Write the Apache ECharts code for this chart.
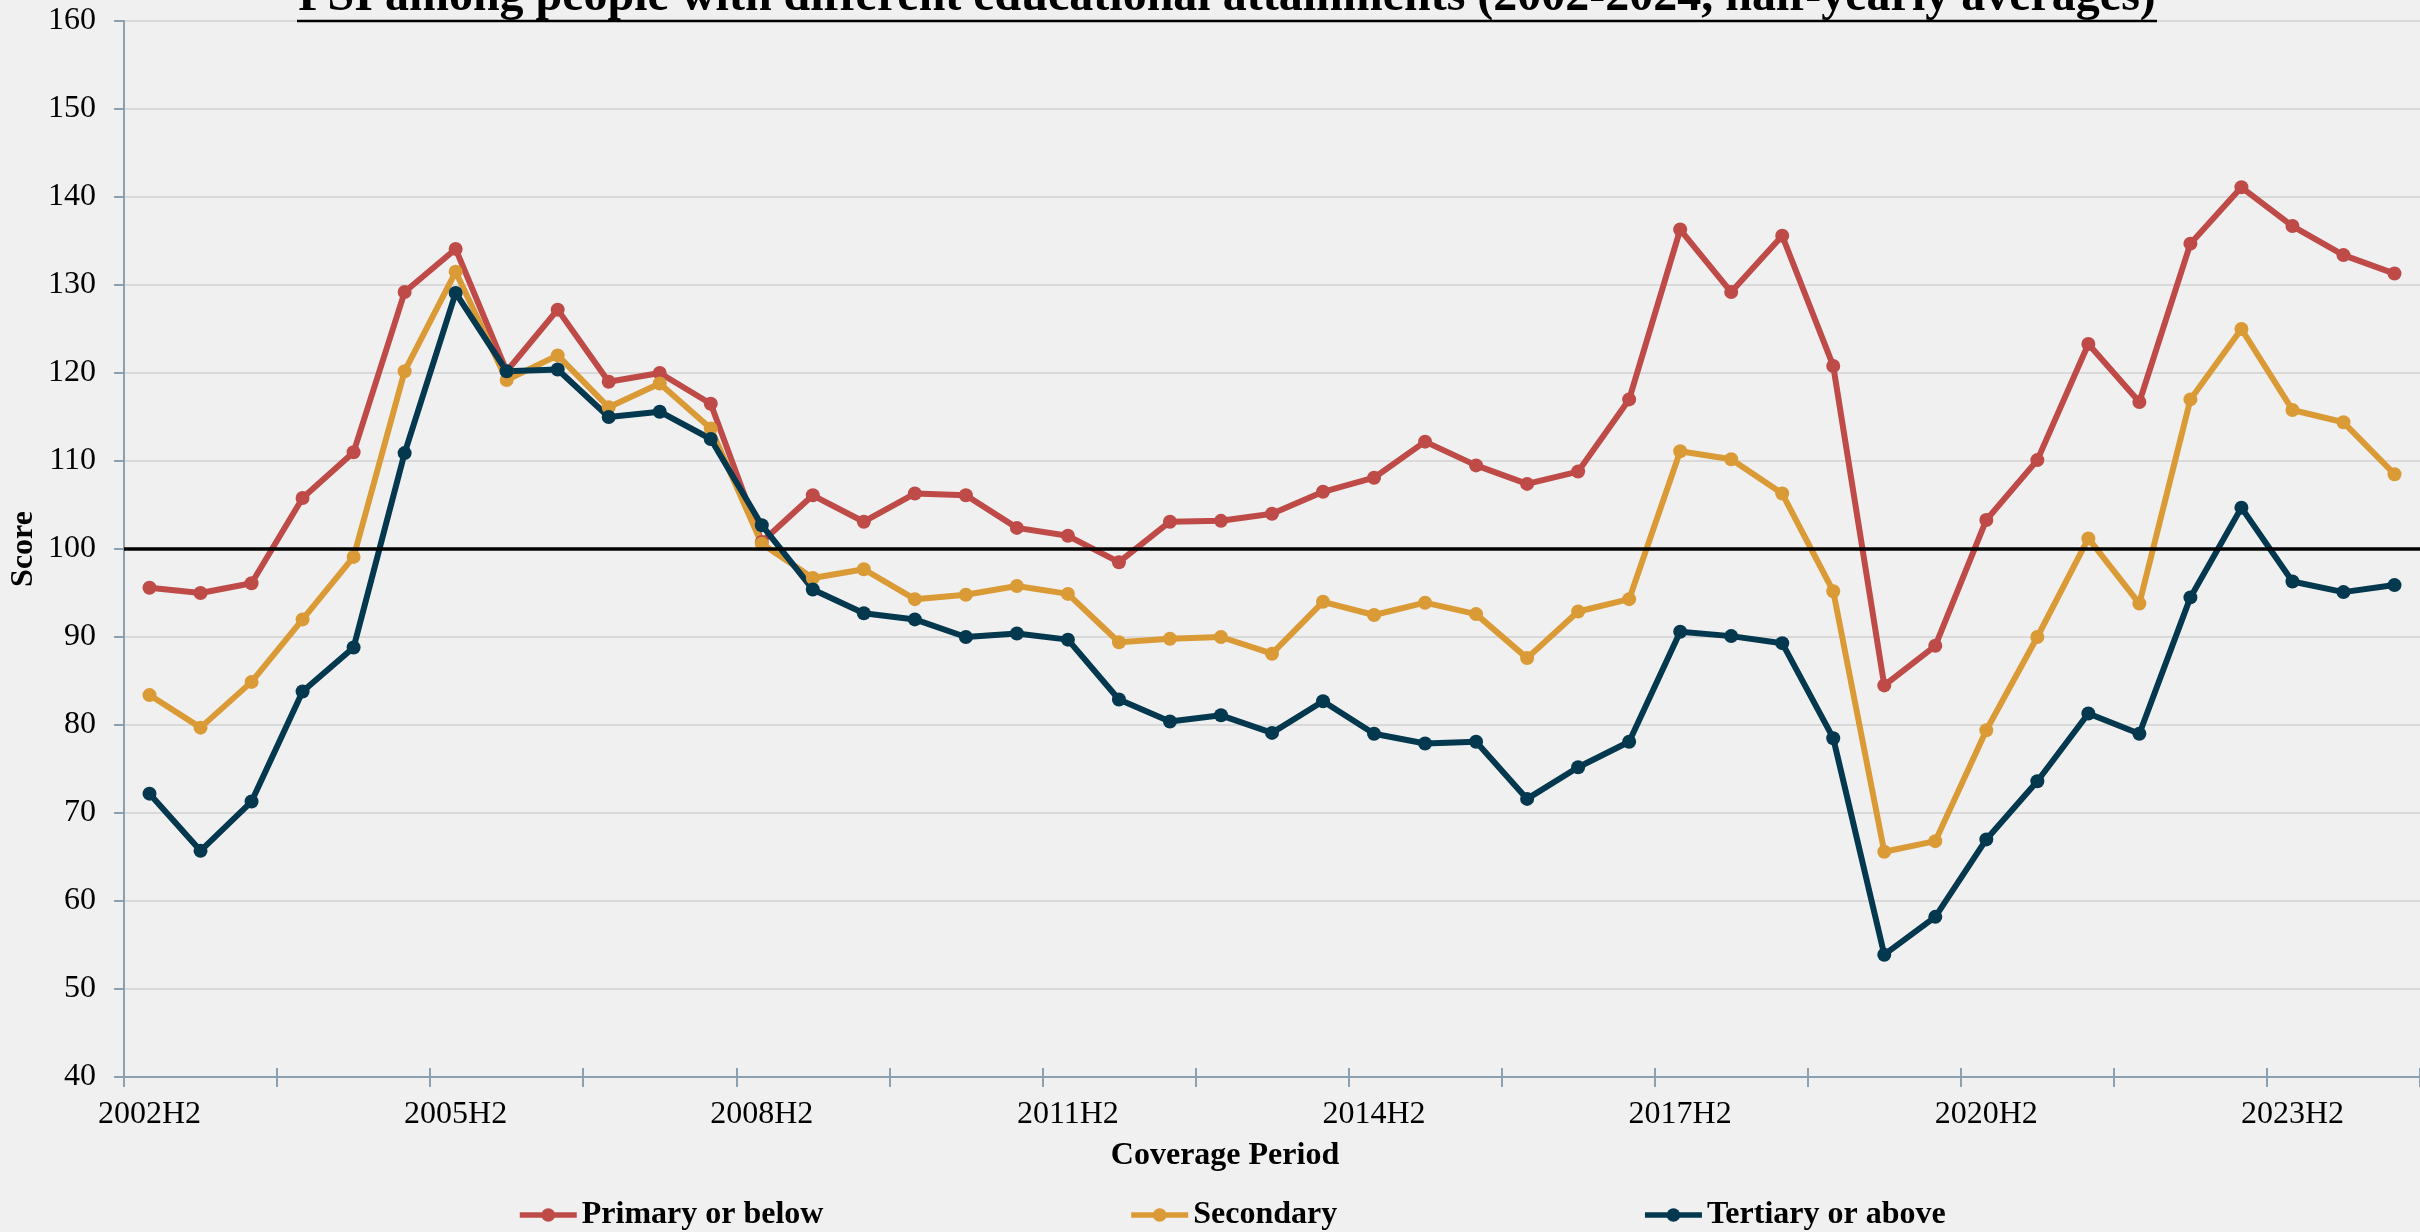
<!DOCTYPE html>
<html>
<head>
<meta charset="utf-8" />
<title>PSI among people with different educational attainments</title>
<script src="https://cdn.jsdelivr.net/npm/echarts@6/dist/echarts.min.js"></script>
<style>
  html, body { margin: 0; padding: 0; background: #f0f0f0; }
  #main { width: 2420px; height: 1232px; }
</style>
</head>
<body>
<div id="main"></div>
<script>
// half-yearly periods, 2002H2 .. 2024H2
var periods = [
  "2002H2", "2003H1", "2003H2", "2004H1", "2004H2", "2005H1", "2005H2", "2006H1", "2006H2",
  "2007H1", "2007H2", "2008H1", "2008H2", "2009H1", "2009H2", "2010H1", "2010H2", "2011H1",
  "2011H2", "2012H1", "2012H2", "2013H1", "2013H2", "2014H1", "2014H2", "2015H1", "2015H2",
  "2016H1", "2016H2", "2017H1", "2017H2", "2018H1", "2018H2", "2019H1", "2019H2", "2020H1",
  "2020H2", "2021H1", "2021H2", "2022H1", "2022H2", "2023H1", "2023H2", "2024H1", "2024H2"
];

var primary = [
  95.6, 95.0, 96.1, 105.8, 111.0, 129.2, 134.1, 120.2, 127.2,
  119.0, 120.0, 116.5, 100.8, 106.1, 103.1, 106.3, 106.1, 102.4,
  101.5, 98.5, 103.1, 103.2, 104.0, 106.5, 108.1, 112.2, 109.5,
  107.4, 108.8, 117.0, 136.3, 129.2, 135.6, 120.8, 84.5, 89.0,
  103.3, 110.1, 123.3, 116.7, 134.7, 141.1, 136.7, 133.4, 131.3
];

var secondary = [
  83.4, 79.7, 84.9, 92.0, 99.1, 120.2, 131.5, 119.2, 122.0,
  116.1, 118.8, 113.7, 100.6, 96.7, 97.7, 94.3, 94.8, 95.8,
  94.9, 89.4, 89.8, 90.0, 88.1, 94.0, 92.5, 93.9, 92.6,
  87.6, 92.9, 94.3, 111.1, 110.2, 106.3, 95.2, 65.6, 66.8,
  79.4, 90.0, 101.2, 93.8, 117.0, 125.0, 115.8, 114.4, 108.5
];

var tertiary = [
  72.2, 65.7, 71.3, 83.8, 88.8, 110.9, 129.1, 120.2, 120.4,
  115.0, 115.6, 112.5, 102.7, 95.4, 92.7, 92.0, 90.0, 90.4,
  89.7, 82.9, 80.4, 81.1, 79.1, 82.7, 79.0, 77.9, 78.1,
  71.6, 75.2, 78.1, 90.6, 90.1, 89.3, 78.5, 53.9, 58.2,
  67.0, 73.6, 81.3, 79.0, 94.5, 104.7, 96.3, 95.1, 95.9
];

var seriesNames = ["Primary or below", "Secondary", "Tertiary or above"];
var seriesColors = ["#be4b48", "#da9b37", "#04384f"];
var baseline = 100;

var serif = "'Liberation Serif', 'Times New Roman', serif";
var axisGrey = "#8ba0b0";

var chartDom = document.getElementById("main");
var myChart = echarts.init(chartDom);
var option;

function lineSeries(idx, values) {
  var s = {
    name: seriesNames[idx],
    type: "line",
    data: values,
    symbol: "circle",
    symbolSize: 14,
    color: seriesColors[idx],
    lineStyle: { width: 6, color: seriesColors[idx] },
    itemStyle: { color: seriesColors[idx] },
    emphasis: { disabled: true },
  };
  return s;
}

var redSeries = lineSeries(0, primary);
// black reference line at 100
redSeries.markLine = {
  silent: true,
  symbol: "none",
  label: { show: false },
  lineStyle: { color: "#000", width: 3.5, type: "solid" },
  data: [{ yAxis: baseline }],
};

option = {
  backgroundColor: "#f0f0f0",
  animation: false,
  grid: {
    left: 124,
    right: -4,
    top: 21,
    bottom: 155,
  },
  legend: {
    data: seriesNames,
    left: 517,
    top: 1199,
    padding: 0,
    itemWidth: 57,
    itemHeight: 17,
    itemGap: 305,
    lineStyle: { width: 5.5 },
    textStyle: {
      fontFamily: serif,
      fontSize: 32,
      fontWeight: "bold",
      color: "#000",
    },
  },
  xAxis: [
    {
      type: "category",
      data: periods,
      boundaryGap: true,
      axisLine: { show: true, lineStyle: { color: axisGrey, width: 2 } },
      axisTick: {
        show: true,
        interval: 2,
        length: 10,
        lineStyle: { color: axisGrey, width: 2 },
      },
      axisLabel: {
        interval: 5,
        margin: 22,
        color: "#000",
        fontFamily: serif,
        fontSize: 32,
      },
      splitLine: { show: false },
    },
    {
      // second copy only for the inner half of the crossing ticks
      type: "category",
      data: periods,
      position: "bottom",
      boundaryGap: true,
      axisLine: { show: false },
      axisTick: {
        show: true,
        inside: true,
        interval: 2,
        length: 9,
        lineStyle: { color: axisGrey, width: 2 },
      },
      axisLabel: { show: false },
      splitLine: { show: false },
    },
  ],
  yAxis: {
    type: "value",
    min: 40,
    max: 160,
    interval: 10,
    axisLine: { show: true, lineStyle: { color: axisGrey, width: 2 } },
    axisTick: {
      show: true,
      length: 10,
      lineStyle: { color: axisGrey, width: 2 },
    },
    axisLabel: {
      margin: 28,
      color: "#000",
      fontFamily: serif,
      fontSize: 32,
    },
    splitLine: { show: true, lineStyle: { color: "#d9d9d9", width: 2 } },
  },
  graphic: [
    {
      type: "text",
      z: 100,
      x: 1227,
      y: -2,
      style: {
        text: "PSI among people with different educational attainments (2002-2024, half-yearly averages)",
        font: "bold 48px " + serif,
        fill: "#000",
        textAlign: "center",
        textVerticalAlign: "middle",
      },
    },
    {
      // title underline
      type: "line",
      z: 100,
      shape: { x1: 297, y1: 21, x2: 2157, y2: 21 },
      style: { stroke: "#000", lineWidth: 2.5 },
    },
    {
      type: "text",
      z: 100,
      x: 24,
      y: 549,
      rotation: Math.PI / 2,
      style: {
        text: "Score",
        font: "bold 32px " + serif,
        fill: "#000",
        textAlign: "center",
        textVerticalAlign: "middle",
      },
    },
    {
      type: "text",
      z: 100,
      x: 1225,
      y: 1156,
      style: {
        text: "Coverage Period",
        font: "bold 32px " + serif,
        fill: "#000",
        textAlign: "center",
        textVerticalAlign: "middle",
      },
    },
  ],
  series: [redSeries, lineSeries(1, secondary), lineSeries(2, tertiary)],
};

option && myChart.setOption(option);
</script>
</body>
</html>
